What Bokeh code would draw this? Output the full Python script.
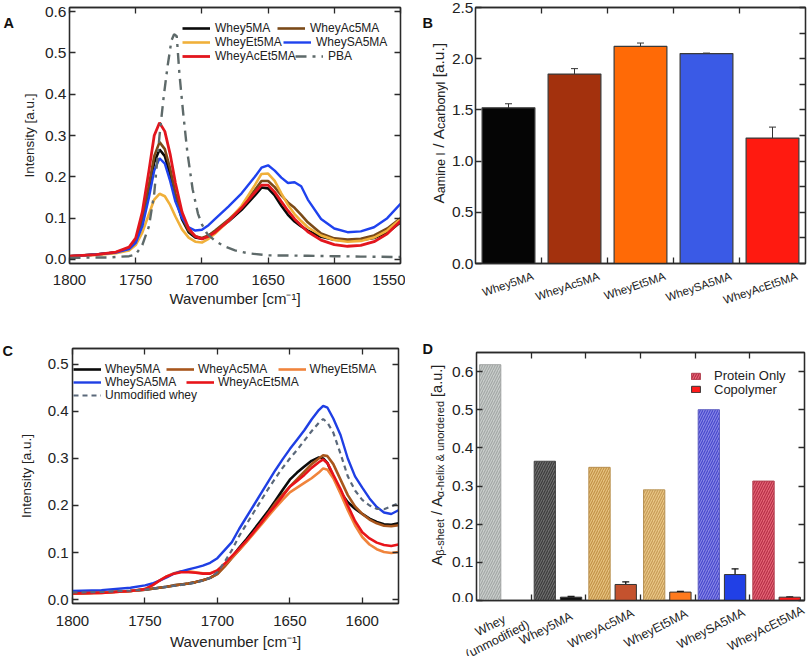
import numpy as np
from bokeh.plotting import figure
from bokeh.layouts import row, column
from bokeh.models import (Range1d, LinearAxis, FixedTicker, Legend, LegendItem, Label,
                          ColumnDataSource, Whisker, TeeHead, PrintfTickFormatter)
from bokeh.embed import file_html
from bokeh.resources import INLINE

FONT = "Liberation Sans"
TXT = "#222222"

# ---------------- Panel A data ----------------
wnA = [1800, 1780, 1765, 1755, 1750, 1745, 1740, 1736, 1732, 1728, 1724, 1720, 1715, 1710, 1705, 1700,
       1695, 1690, 1680, 1670, 1660, 1655, 1650, 1645, 1640, 1635, 1630, 1625, 1620, 1610, 1600, 1590,
       1580, 1570, 1560, 1550]
a_whey5ma = [0.008, 0.012, 0.017, 0.026, 0.042, 0.09, 0.17, 0.235, 0.266, 0.25, 0.205, 0.15, 0.097, 0.066,
             0.053, 0.05, 0.057, 0.068, 0.092, 0.12, 0.155, 0.174, 0.172, 0.155, 0.13, 0.108, 0.092, 0.08,
             0.07, 0.055, 0.048, 0.046, 0.047, 0.052, 0.065, 0.09]
a_wheyac5ma = [0.008, 0.012, 0.017, 0.027, 0.045, 0.095, 0.18, 0.25, 0.284, 0.267, 0.22, 0.16, 0.103, 0.07,
               0.056, 0.052, 0.058, 0.07, 0.096, 0.127, 0.168, 0.19, 0.19, 0.175, 0.155, 0.138, 0.125, 0.108,
               0.09, 0.063, 0.051, 0.048, 0.05, 0.058, 0.075, 0.1]
a_wheyet5ma = [0.008, 0.011, 0.015, 0.022, 0.035, 0.065, 0.11, 0.145, 0.159, 0.153, 0.132, 0.104, 0.073, 0.053,
               0.043, 0.041, 0.05, 0.063, 0.093, 0.13, 0.18, 0.207, 0.208, 0.19, 0.16, 0.132, 0.11, 0.093,
               0.078, 0.058, 0.047, 0.043, 0.045, 0.053, 0.07, 0.098]
a_wheysa5ma = [0.008, 0.012, 0.017, 0.025, 0.04, 0.08, 0.15, 0.215, 0.245, 0.232, 0.19, 0.14, 0.1, 0.078,
               0.07, 0.072, 0.083, 0.098, 0.128, 0.16, 0.2, 0.222, 0.228, 0.215, 0.198, 0.185, 0.187, 0.177,
               0.145, 0.098, 0.075, 0.066, 0.068, 0.078, 0.1, 0.135]
a_wheyacet5ma = [0.008, 0.012, 0.018, 0.03, 0.052, 0.115, 0.215, 0.3, 0.331, 0.31, 0.255, 0.185, 0.115, 0.075,
                 0.056, 0.05, 0.056, 0.066, 0.093, 0.125, 0.162, 0.18, 0.18, 0.163, 0.14, 0.118, 0.098, 0.082,
                 0.067, 0.047, 0.036, 0.032, 0.034, 0.043, 0.062, 0.093]
wnPBA = [1800, 1770, 1755, 1750, 1745, 1740, 1736, 1732, 1729, 1726, 1723, 1721, 1719, 1717, 1714, 1711,
         1707, 1703, 1700, 1696, 1690, 1683, 1675, 1665, 1650, 1620, 1600, 1580, 1550]
a_pba = [0.004, 0.005, 0.008, 0.012, 0.035, 0.08, 0.16, 0.3, 0.39, 0.466, 0.53, 0.545, 0.54, 0.45, 0.35, 0.26,
         0.17, 0.111, 0.085, 0.062, 0.045, 0.032, 0.022, 0.015, 0.01, 0.009, 0.008, 0.007, 0.006]
A_xticks = [1800, 1750, 1700, 1650, 1600, 1550]
A_yticks = [0.0, 0.1, 0.2, 0.3, 0.4, 0.5, 0.6]

# ---------------- Panel B data ----------------
catsB = ["Whey5MA", "WheyAc5MA", "WheyEt5MA", "WheySA5MA", "WheyAcEt5MA"]
ratioB = [1.52, 1.85, 2.12, 2.05, 1.225]
errB = [0.04, 0.053, 0.033, 0.005, 0.107]
colorsB = ["#050505", "#a3310d", "#ff6a06", "#3a5ae6", "#ff1a10"]
B_yticks = [0.0, 0.5, 1.0, 1.5, 2.0, 2.5]
B_yticks_right = [0.0, 0.25, 0.5, 0.75, 1.0, 1.25, 1.5, 1.75, 2.0, 2.25, 2.5]

# ---------------- Panel C data ----------------
wnC = [1800, 1780, 1760, 1750, 1745, 1740, 1735, 1730, 1725, 1720, 1715, 1710, 1705, 1700, 1695, 1690,
       1685, 1680, 1675, 1670, 1665, 1660, 1655, 1650, 1645, 1640, 1635, 1630, 1627, 1624, 1620, 1615,
       1610, 1605, 1600, 1595, 1590, 1585, 1580, 1575]
c_whey5ma = [0.013, 0.015, 0.018, 0.021, 0.023, 0.025, 0.027, 0.03, 0.032, 0.034, 0.037, 0.041, 0.046, 0.055,
             0.072, 0.09, 0.11, 0.128, 0.148, 0.168, 0.188, 0.21, 0.233, 0.255, 0.27, 0.283, 0.295, 0.302,
             0.3, 0.29, 0.262, 0.228, 0.207, 0.193, 0.182, 0.172, 0.165, 0.16, 0.159, 0.162]
c_wheyac5ma = [0.013, 0.015, 0.018, 0.021, 0.023, 0.025, 0.027, 0.03, 0.032, 0.034, 0.037, 0.041, 0.046, 0.054,
               0.07, 0.088, 0.105, 0.123, 0.142, 0.162, 0.183, 0.205, 0.223, 0.24, 0.256, 0.272, 0.288, 0.3,
               0.307, 0.305, 0.288, 0.255, 0.222, 0.198, 0.182, 0.17, 0.162, 0.157, 0.156, 0.158]
c_wheyet5ma = [0.013, 0.014, 0.018, 0.022, 0.03, 0.04, 0.049, 0.056, 0.06, 0.06, 0.058, 0.056, 0.056, 0.062,
               0.075, 0.09, 0.105, 0.122, 0.14, 0.158, 0.177, 0.195, 0.212, 0.228, 0.238, 0.248, 0.258, 0.27,
               0.279, 0.276, 0.258, 0.225, 0.19, 0.158, 0.133, 0.117, 0.107, 0.101, 0.099, 0.101]
c_wheysa5ma = [0.018, 0.02, 0.025, 0.03, 0.034, 0.04, 0.047, 0.055, 0.06, 0.064, 0.068, 0.072, 0.078, 0.088,
               0.105, 0.122, 0.15, 0.175, 0.2, 0.225, 0.25, 0.275, 0.298, 0.32, 0.34, 0.36, 0.383, 0.403,
               0.412, 0.408, 0.385, 0.35, 0.3, 0.262, 0.238, 0.215, 0.197, 0.185, 0.182, 0.19]
c_wheyacet5ma = [0.013, 0.014, 0.018, 0.022, 0.03, 0.04, 0.049, 0.055, 0.058, 0.058, 0.057, 0.055, 0.055, 0.062,
                 0.076, 0.092, 0.108, 0.125, 0.143, 0.162, 0.182, 0.2, 0.22, 0.24, 0.252, 0.265, 0.28, 0.292,
                 0.298, 0.29, 0.265, 0.235, 0.2, 0.167, 0.143, 0.13, 0.121, 0.116, 0.114, 0.117]
c_unmodified = [0.015, 0.016, 0.019, 0.021, 0.023, 0.025, 0.027, 0.029, 0.031, 0.033, 0.036, 0.04, 0.046, 0.058,
                0.08, 0.105, 0.135, 0.16, 0.185, 0.21, 0.235, 0.258, 0.28, 0.3, 0.318, 0.338, 0.358, 0.376,
                0.384, 0.376, 0.355, 0.31, 0.262, 0.232, 0.212, 0.2, 0.193, 0.192, 0.198, 0.205]
C_xticks = [1800, 1750, 1700, 1650, 1600]
C_yticks = [0.0, 0.1, 0.2, 0.3, 0.4, 0.5]

# ---------------- Panel D data ----------------
catsD = ["Whey\n(unmodified)", "Whey5MA", "WheyAc5MA", "WheyEt5MA", "WheySA5MA", "WheyAcEt5MA"]
proteinD = [0.618, 0.365, 0.349, 0.29, 0.5, 0.313]
copolyD = [0.0, 0.0087, 0.042, 0.022, 0.068, 0.0087]
copolyErrD = [0.0, 0.002, 0.007, 0.002, 0.015, 0.001]
proteinFillD = ["#c9cdcb", "#6d6d6d", "#e6c27e", "#e9c786", "#8585e6", "#e46475"]
proteinHatchD = ["#a2a7a5", "#3a3a3a", "#c29146", "#c69a55", "#4646cc", "#b52d45"]
proteinLineD = ["#a0a4a2", "#4a4a4a", "#b89050", "#b89458", "#6060c0", "#b04050"]
copolyFillD = ["#ffffff", "#111111", "#c4522e", "#ff7a1e", "#2140e6", "#ff1b1b"]
D_yticks = [0.0, 0.1, 0.2, 0.3, 0.4, 0.5, 0.6]

# ---------------- helpers ----------------
W = {"A": .667, " ": .278, "/": .278, "[": .278, "]": .278, "a": .556, ".": .278, "u": .556, "m": .833,
     "i": .222, "n": .556, "e": .556, "I": .278, "c": .5, "r": .333, "b": .556, "o": .556, "y": .5,
     "l": .222, "s": .5, "h": .556, "t": .278, "-": .333, "x": .5, "&": .667, "d": .556, "β": .573,
     "α": .578}


def text_w(s, size):
    return sum(W.get(ch, 0.556) for ch in s) * size


def strip(w, h, xr=None):
    s = figure(width=w, height=h, x_range=xr if xr is not None else Range1d(0, w), y_range=Range1d(0, h),
               output_backend="svg", toolbar_location=None, min_border=0, x_axis_type=None,
               y_axis_type=None, title=None)
    s.grid.visible = False
    s.outline_line_color = None
    s.background_fill_alpha = 0
    s.border_fill_alpha = 0
    return s


def rich_vertical_label(p, runs, x, y0, main, sub, shift):
    y = y0
    for txt, is_sub, gap in runs:
        size = sub if is_sub else main
        y += gap * main
        p.add_layout(Label(x=x + (shift if is_sub else 0), y=y, text=txt, angle=np.pi / 2,
                           text_align="left", text_baseline="alphabetic",
                           text_font=FONT, text_font_size=f"{size}px", text_color=TXT))
        y += text_w(txt, size)


def panel_letter(p, letter, x, y):
    p.add_layout(Label(x=x, y=y, text=letter, text_font=FONT,
                       text_font_style="bold", text_font_size="14.5px", text_color="#111111",
                       text_baseline="alphabetic"))


def base_fig(w, h, xr, yr, bl, br, bt, bb):
    p = figure(width=w, height=h, x_range=xr, y_range=yr, output_backend="svg", toolbar_location=None,
               min_border_left=bl, min_border_right=br, min_border_top=bt, min_border_bottom=bb)
    p.xgrid.visible = False
    p.ygrid.visible = False
    p.outline_line_color = "#2a2a2a"
    p.outline_line_width = 1.3
    p.background_fill_color = "white"
    p.border_fill_color = "white"
    return p


def style_axis(ax, ticks, fmt=None, size="15px", standoff=4, hide=False):
    ax.ticker = FixedTicker(ticks=ticks)
    ax.major_tick_in = 6
    ax.major_tick_out = 0
    ax.minor_tick_in = 0
    ax.minor_tick_out = 0
    ax.axis_line_color = "#2a2a2a"
    ax.axis_line_width = 1.3
    ax.major_tick_line_color = "#2a2a2a"
    ax.major_tick_line_width = 1.3
    ax.major_label_text_font = FONT
    ax.major_label_text_color = TXT
    ax.major_label_standoff = standoff
    ax.major_label_text_font_size = size
    if fmt:
        ax.formatter = PrintfTickFormatter(format=fmt)
    if hide:
        ax.major_label_overrides = {float(t): "" for t in ticks}
        ax.major_label_standoff = 0
        ax.major_label_text_font_size = "1px"
    ax.axis_label_text_font = FONT
    ax.axis_label_text_font_style = "normal"
    ax.axis_label_text_color = TXT


def item_legend(p, label, r, x, y_top, frame_h, size="12px", gw=28, gh=12, standoff=5, index=None, h=14):
    leg = Legend(items=[LegendItem(label=label, renderers=[r], index=index)],
                 location=(x, frame_h - y_top - h / 2), orientation="vertical", padding=0, margin=0,
                 spacing=0, label_text_font=FONT, label_text_font_size=size, label_text_color=TXT,
                 glyph_width=gw, glyph_height=gh, label_height=h, label_standoff=standoff,
                 background_fill_alpha=0, border_line_color=None)
    p.add_layout(leg, "center")


# ---------------- Panel A ----------------
pA = base_fig(390, 320, Range1d(1800, 1550), Range1d(-0.0097, 0.6097), 54, 5, 7, 57)
style_axis(pA.xaxis[0], A_xticks, size="15px", standoff=11)
style_axis(pA.yaxis[0], A_yticks, fmt="%.1f", size="15.5px", standoff=3)
pA.xaxis[0].axis_label = "Wavenumber [cm⁻¹]"
pA.xaxis[0].axis_label_text_font_size = "15px"
pA.xaxis[0].axis_label_standoff = 2
pA.yaxis[0].axis_label = "Intensity [a.u.]"
pA.yaxis[0].axis_label_text_font_size = "13.5px"
pA.yaxis[0].axis_label_standoff = 5
axr = LinearAxis(); style_axis(axr, A_yticks, hide=True); pA.add_layout(axr, "right")
axt = LinearAxis(); style_axis(axt, A_xticks, hide=True); pA.add_layout(axt, "above")

rA1 = pA.line(wnA, a_whey5ma, line_color="#0a0a0a", line_width=2.6)
rA2 = pA.line(wnA, a_wheyac5ma, line_color="#7a4a18", line_width=2.6)
rA3 = pA.line(wnA, a_wheyet5ma, line_color="#f0b03a", line_width=2.6)
rA4 = pA.line(wnA, a_wheysa5ma, line_color="#1f42ee", line_width=2.4)
rA5 = pA.line(wnA, a_wheyacet5ma, line_color="#e3161e", line_width=2.8)
rA6 = pA.line(wnPBA, a_pba, line_color="#5e6a6a", line_width=2.4, line_dash="11 6 3 6")

fhA = 256
item_legend(pA, "Whey5MA", rA1, 113, 20.5, fhA)
item_legend(pA, "WheyAc5MA", rA2, 208, 20.5, fhA)
item_legend(pA, "WheyEt5MA", rA3, 113, 34.5, fhA)
item_legend(pA, "WheySA5MA", rA4, 214, 34.5, fhA)
item_legend(pA, "WheyAcEt5MA", rA5, 113, 48.5, fhA)
item_legend(pA, "PBA", rA6, 226, 48.5, fhA)

# ---------------- Panel B ----------------
xB = np.arange(len(catsB)) + 0.5
srcB = ColumnDataSource(dict(x=xB, top=ratioB, color=colorsB,
                             upper=np.array(ratioB) + np.array(errB),
                             lower=np.array(ratioB) - np.array(errB)))
pB = base_fig(362, 320, Range1d(0, len(catsB)), Range1d(0, 2.5), 26, 5, 7, 57)
style_axis(pB.yaxis[0], B_yticks, fmt="%.1f", size="15.5px", standoff=2)
style_axis(pB.xaxis[0], list(range(1, len(catsB))), hide=True)
axr = LinearAxis(); style_axis(axr, B_yticks_right, hide=True); pB.add_layout(axr, "right")
axt = LinearAxis(); style_axis(axt, list(range(1, len(catsB))), hide=True); pB.add_layout(axt, "above")
# category names: a second bottom axis whose ticks sit at the end of each rotated name
nameTicksB = [round(float(v) + 0.37, 3) for v in xB]
axn = LinearAxis(ticker=FixedTicker(ticks=nameTicksB),
                 major_label_overrides={t: c for t, c in zip(nameTicksB, catsB)},
                 major_label_orientation=0.33, major_tick_in=0, major_tick_out=0, minor_tick_in=0,
                 minor_tick_out=0, axis_line_color=None, major_label_standoff=12,
                 major_label_text_font=FONT, major_label_text_font_size="11.5px",
                 major_label_text_color=TXT)
pB.add_layout(axn, "below")
pB.vbar(x="x", top="top", width=0.8, fill_color="color", line_color="#3a3a3a", line_width=1.2, source=srcB)
pB.add_layout(Whisker(source=srcB, base="x", upper="upper", lower="lower", line_color="#333333",
                      line_width=1, upper_head=TeeHead(size=7, line_color="#333333", line_width=1),
                      lower_head=TeeHead(size=7, line_color="#333333", line_width=1)))

# ---------------- Panel C ----------------
pC = base_fig(390, 336, Range1d(1800, 1575), Range1d(-0.0085, 0.534), 53, 7, 28, 53)
style_axis(pC.xaxis[0], C_xticks, size="15px", standoff=12)
style_axis(pC.yaxis[0], C_yticks, fmt="%.1f", size="15px", standoff=4)
pC.xaxis[0].axis_label = "Wavenumber [cm⁻¹]"
pC.xaxis[0].axis_label_text_font_size = "15px"
pC.xaxis[0].axis_label_standoff = 4
pC.yaxis[0].axis_label = "Intensity [a.u.]"
pC.yaxis[0].axis_label_text_font_size = "13.5px"
pC.yaxis[0].axis_label_standoff = 11
axr = LinearAxis(); style_axis(axr, C_yticks, hide=True); pC.add_layout(axr, "right")
axt = LinearAxis(); style_axis(axt, C_xticks, hide=True); pC.add_layout(axt, "above")

rC1 = pC.line(wnC, c_whey5ma, line_color="#0a0a0a", line_width=2.6)
rC2 = pC.line(wnC, c_wheyac5ma, line_color="#a8561c", line_width=2.6)
rC3 = pC.line(wnC, c_wheyet5ma, line_color="#f0843c", line_width=2.6)
rC4 = pC.line(wnC, c_wheysa5ma, line_color="#1f3fe4", line_width=2.4)
rC5 = pC.line(wnC, c_wheyacet5ma, line_color="#e8141a", line_width=2.6)
rC6 = pC.line(wnC, c_unmodified, line_color="#5a687a", line_width=2.2, line_dash="5 4")

fhC = 255
item_legend(pC, "Whey5MA", rC1, 1, 20.7, fhC, standoff=4)
item_legend(pC, "WheyAc5MA", rC2, 94, 20.7, fhC, standoff=4)
item_legend(pC, "WheyEt5MA", rC3, 205.6, 20.7, fhC, standoff=4)
item_legend(pC, "WheySA5MA", rC4, 1, 34, fhC, standoff=4)
item_legend(pC, "WheyAcEt5MA", rC5, 114, 34, fhC, standoff=4)
item_legend(pC, "Unmodified whey", rC6, 1, 47.4, fhC, standoff=4)

# ---------------- Panel D ----------------
nD = len(catsD)
xD = np.arange(nD)
srcP = ColumnDataSource(dict(x=xD + 0.25, top=proteinD, fill=proteinFillD, hatch=proteinHatchD,
                             line=proteinLineD))
keep = [i for i in range(nD) if copolyD[i] > 0]
srcCo = ColumnDataSource(dict(x=xD[keep] + 0.73, top=[copolyD[i] for i in keep],
                              fill=[copolyFillD[i] for i in keep],
                              upper=[copolyD[i] + copolyErrD[i] for i in keep],
                              lower=[copolyD[i] - copolyErrD[i] for i in keep]))
D_left, D_right, D_fw = 26, 6, 330
pD = base_fig(362, 282, Range1d(0, nD), Range1d(0, 0.65), D_left, D_right, 32, 2)
style_axis(pD.yaxis[0], D_yticks, fmt="%.1f", size="15.5px", standoff=3)
style_axis(pD.xaxis[0], list(range(1, nD)), hide=True)
axr = LinearAxis(); style_axis(axr, D_yticks, hide=True); pD.add_layout(axr, "right")
axt = LinearAxis(); style_axis(axt, list(range(1, nD)), hide=True); pD.add_layout(axt, "above")
rP = pD.vbar(x="x", top="top", width=0.39, fill_color="fill", line_color="line", line_width=1,
             hatch_pattern="right_diagonal_line", hatch_color="hatch", hatch_scale=5, hatch_weight=1.1,
             source=srcP)
rCo = pD.vbar(x="x", top="top", width=0.39, fill_color="fill", line_color="#333333", line_width=1,
              source=srcCo)
pD.add_layout(Whisker(source=srcCo, base="x", upper="upper", lower="lower", line_color="#111111",
                      line_width=1.3, upper_head=TeeHead(size=7, line_color="#111111", line_width=1.3),
                      lower_head=TeeHead(size=7, line_color="#111111", line_width=1.3)))
fhD = 248
item_legend(pD, "Protein Only", rP, 214, 25.3, fhD, size="13px", gw=11, gh=8, standoff=13, index=5, h=12)
item_legend(pD, "Copolymer", rCo, 214, 38.8, fhD, size="13px", gw=11, gh=8, standoff=13,
            index=len(keep) - 1, h=12)

# strip under D carrying the category names on the same x scale as D's frame
upx = nD / D_fw
stripDb = strip(362, 54, Range1d(-D_left * upx, nD + D_right * upx))
for i, c in enumerate(catsD):
    multi = "\n" in c
    stripDb.add_layout(Label(x=xD[i] + 0.5, y=24 if multi else 28, x_units="data", y_units="data",
                             x_offset=-8 if multi else -11, text=c,
                             angle=0.47, text_align="center", text_baseline="middle", text_font=FONT,
                             text_font_size="12.5px", text_color=TXT, text_line_height=1.1))

# ---------------- strips with panel letters and rich y labels ----------------
stripL1 = strip(15, 320)
panel_letter(stripL1, "A", 3, 298)
stripL2 = strip(15, 336)
panel_letter(stripL2, "C", 2, 306)

sp = 0.278
stripR1 = strip(43, 320)
panel_letter(stripR1, "B", 17, 298)
rich_vertical_label(stripR1, [("A", 0, 0), ("amine I", 1, 0), ("/", 0, sp), ("A", 0, sp),
                              ("carbonyl", 1, 0), ("[a.u.]", 0, sp)], 33, 117, 15.5, 12.5, 2.5)
stripR2 = strip(43, 336)
panel_letter(stripR2, "D", 17, 308)
rich_vertical_label(stripR2, [("A", 0, 0), ("β-sheet", 1, 0), ("/", 0, sp), ("A", 0, sp),
                              ("α-helix & unordered", 1, 0), ("[a.u.]", 0, sp)], 31.5, 91, 14.5, 11, 2.5)

# strips are wrapped in their own columns so that the row does not align their frames with the plots
layout = column(row(column(stripL1), pA, column(stripR1), pB),
                row(column(stripL2), pC, column(stripR2), column(pD, column(stripDb))))
open("out.html", "w").write(file_html(layout, INLINE))
